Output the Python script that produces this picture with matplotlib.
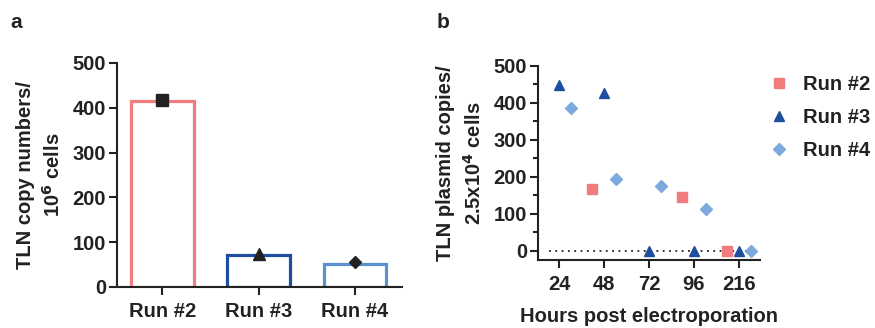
import numpy as np
import matplotlib
matplotlib.use('Agg')
import matplotlib.pyplot as plt
from matplotlib.ticker import MultipleLocator
from matplotlib.lines import Line2D

plt.rcParams['font.family'] = ['Liberation Sans', 'DejaVu Sans']
plt.rcParams['font.weight'] = 'bold'
plt.rcParams['mathtext.default'] = 'bf'

# panel a data
runs = ['Run #2', 'Run #3', 'Run #4']
bar_vals = [416, 72, 51]
point_vals = [418, 74, 55]
run_markers = ['s', '^', 'D']

# panel b data
hours = ['24', '48', '72', '96', '216']
run2_hours = [1, 3, 4]
run2_vals = [167, 144, 0]
run3_hours = [0, 1, 2, 3, 4]
run3_vals = [447, 426, 0, 0, 0]
run4_hours = [0, 1, 2, 3, 4]
run4_vals = [386, 195, 176, 112, 0]

red = '#F07C7E'
dblue = '#1F4E9E'
lblue = '#5C90D0'
lblue_pt = '#7EA9DD'
ink = '#222222'
colors = [red, dblue, lblue]

fs = 14.5
lw = 1.5

fig = plt.figure(figsize=(8.75, 3.28), dpi=100)

# ---- panel a ----
ax1 = fig.add_axes([0.1337, 0.125, 0.3257, 0.683])
x = np.arange(len(runs))
ax1.bar(x, bar_vals, width=0.65, facecolor='white', edgecolor=colors, linewidth=2.3)
for i in range(len(runs)):
    ax1.plot(x[i], point_vals[i], marker=run_markers[i], color=ink,
             markersize=8 if run_markers[i] != 'D' else 6.5, linestyle='none', clip_on=False, zorder=5)
ax1.set_xlim(-0.47, 2.49)
ax1.set_ylim(0, 500)
ax1.set_xticks(x)
ax1.set_xticklabels(runs)
ax1.set_yticks(range(0, 501, 100))
ax1.set_ylabel('TLN copy numbers/\n10$^6$ cells', fontsize=fs, fontweight='bold', color=ink, labelpad=6,
               linespacing=1.4)

# ---- panel b ----
ax2 = fig.add_axes([0.6149, 0.207, 0.2537, 0.592])
off = 0.27
ax2.axhline(0, xmin=0.05, xmax=0.96, color=ink, linestyle=(0, (1, 2.5)), linewidth=1.3, zorder=1)
ax2.plot(np.array(run2_hours) - off, run2_vals, 's', color=red, markersize=7.5, linestyle='none', zorder=3)
ax2.plot(run3_hours, run3_vals, '^', color=dblue, markersize=7.5, linestyle='none', zorder=3)
ax2.plot(np.array(run4_hours) + off, run4_vals, 'D', color=lblue_pt, markersize=6, linestyle='none', zorder=3)
ax2.set_xlim(-0.47, 4.47)
ax2.set_ylim(-26, 500)
ax2.set_xticks(range(len(hours)))
ax2.set_xticklabels(hours)
ax2.set_yticks(range(0, 501, 100))
ax2.yaxis.set_minor_locator(MultipleLocator(50))
ax2.set_xlabel('Hours post electroporation', fontsize=fs, fontweight='bold', color=ink, labelpad=9)
ax2.set_ylabel('TLN plasmid copies/\n2.5x10$^4$ cells', fontsize=fs, fontweight='bold', color=ink, labelpad=6,
               linespacing=1.45)

handles = [Line2D([], [], marker='s', color=red, linestyle='none', markersize=7.5),
           Line2D([], [], marker='^', color=dblue, linestyle='none', markersize=7.5),
           Line2D([], [], marker='D', color=lblue_pt, linestyle='none', markersize=6)]
ax2.legend(handles, runs, loc='upper left', bbox_to_anchor=(1.04, 0.955), frameon=False,
           prop={'size': fs, 'weight': 'bold'}, handlelength=1.0, handletextpad=0.7,
           labelspacing=0.7, borderpad=0, borderaxespad=0, labelcolor=ink)

for ax in (ax1, ax2):
    for s in ['top', 'right']:
        ax.spines[s].set_visible(False)
    for s in ['left', 'bottom']:
        ax.spines[s].set_linewidth(lw)
        ax.spines[s].set_color(ink)
    ax.tick_params(axis='both', which='major', width=lw, length=6, color=ink,
                   labelsize=fs, labelcolor=ink)
    ax.tick_params(axis='x', which='major', pad=5)
    ax.tick_params(axis='y', which='major', pad=2)
    ax.tick_params(axis='y', which='minor', width=lw, length=3.5, color=ink)
    for lab in ax.get_xticklabels() + ax.get_yticklabels():
        lab.set_fontweight('bold')

fig.text(10 / 875, 1 - 22 / 328, 'a', fontsize=15, fontweight='bold', color=ink, va='center')
fig.text(437 / 875, 1 - 22 / 328, 'b', fontsize=15, fontweight='bold', color=ink, va='center')

fig.savefig('out.png', dpi=100)
